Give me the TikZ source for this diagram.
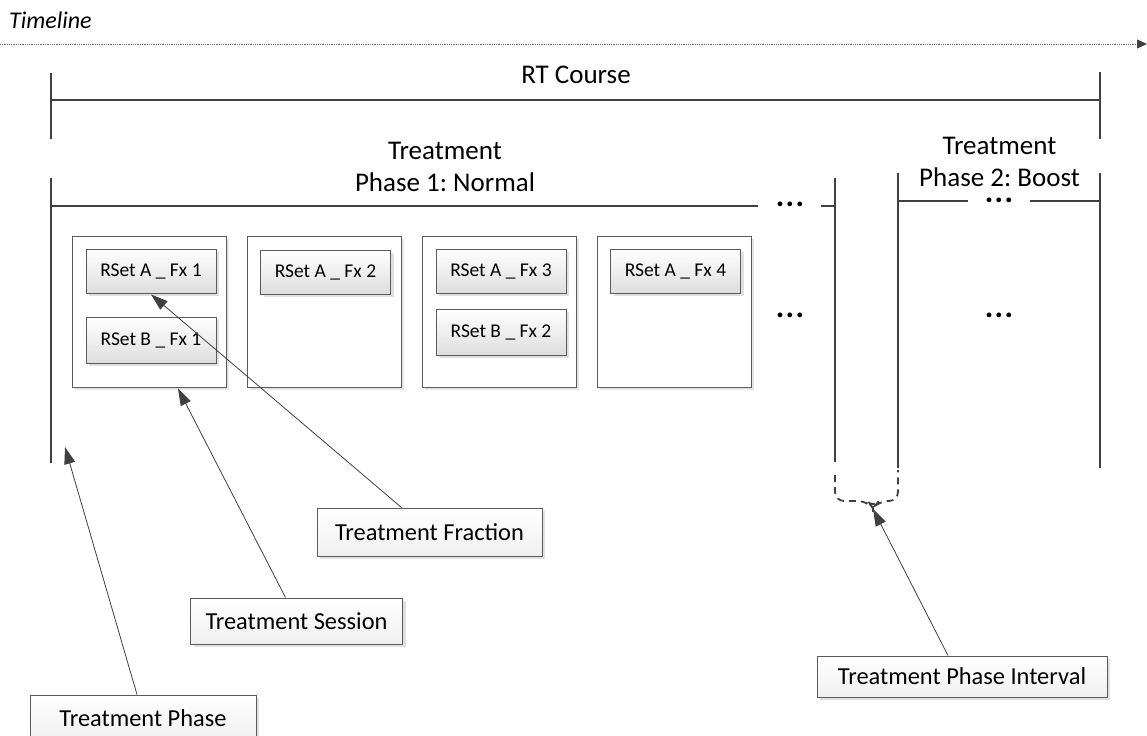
\documentclass[tikz,border=0pt]{standalone}
\usepackage{fontspec}
\setmainfont{Carlito}
\usetikzlibrary{arrows.meta,shadows}

\definecolor{barc}{HTML}{404040}
\definecolor{edgec}{HTML}{5A5A5A}

\tikzset{
  bar/.style={draw=barc, line width=2.6bp},
  sessionbox/.style={draw=edgec, line width=0.9bp, fill=white,
    minimum width=154bp, minimum height=151bp, inner sep=0pt,
    drop shadow={shadow xshift=3bp, shadow yshift=-3bp, fill=black!10, opacity=1}},
  fracbox/.style={draw=edgec, line width=0.9bp, top color=white, bottom color=black!13,
    minimum width=130bp, minimum height=44bp, inner sep=0pt,
    font=\fontsize{19.5bp}{22bp}\selectfont,
    drop shadow={shadow xshift=3bp, shadow yshift=-3bp, fill=black!12, opacity=1}},
  callout/.style={draw=edgec, line width=0.9bp, top color=white, bottom color=black!6,
    inner sep=0pt, font=\fontsize{24.4bp}{28bp}\selectfont,
    drop shadow={shadow xshift=3bp, shadow yshift=-3bp, fill=black!12, opacity=1}},
  pointer/.style={draw=barc, line width=0.8bp, -{Triangle[length=17bp,width=11bp]}},
  title/.style={font=\fontsize{27bp}{32bp}\selectfont, align=center, inner sep=0pt},
  dots/.style={font=\fontsize{32bp}{32bp}\selectfont\bfseries, inner sep=0pt, anchor=base},
}

\newcommand{\ellip}{.\kern1.4bp.\kern1.4bp.}

\begin{document}
\frenchspacing
\begin{tikzpicture}[x=1bp, y=-1bp]
\useasboundingbox (0,0) rectangle (1147,736);

% timeline
\node[anchor=west, inner sep=0pt, font=\fontsize{24bp}{26bp}\selectfont\itshape] (tl) at (9,20) {Timeline};
\coordinate (tlA) at (0,44);
\coordinate (tlB) at (1147,44);
\draw[draw=black!60, line width=0.8bp, densely dotted,
  -{Triangle[length=10bp,width=9bp,fill=barc,color=barc]}] (tlA) -- (tlB);

% RT course span
\draw[bar] (51,73) -- (51,139);
\draw[bar] (1100,72) -- (1100,139);
\draw[bar] (51,100) -- (1100,100);
\node[title] (rt) at (576,75) {RT Course};

% treatment phase 1
\node[title] (ph1) at (445,167) {Treatment\\Phase 1: Normal};
\draw[bar] (51,178) -- (51,463);
\draw[bar] (51,206) -- (758,206);
\node[dots] (d1) at (790,206) {\ellip};
\draw[bar] (821,206) -- (835,206);
\draw[bar] (835,178) -- (835,462);

% treatment phase 2
\draw[bar] (898,173) -- (898,468);
\draw[bar] (1100,173) -- (1100,468);
\draw[bar] (898,201) -- (968,201);
\draw[bar] (1030,201) -- (1100,201);
\node[title] (ph2) at (999.5,162) {Treatment\\Phase 2: Boost};
\node[dots] (d2) at (999,202) {\ellip};

% interval between phases
\draw[draw=barc, line width=1.8bp, dash pattern=on 7bp off 5bp, rounded corners=9bp]
  (835,475) -- (835,501) -- (867,501) -- (873,508) -- (879,501) -- (898,501) -- (898,470);
\coordinate (brace) at (873,509);
\draw[draw=barc, line width=1.8bp] (873,506) -- (873,512);

% treatment sessions
\node[sessionbox] (s1) at (149,311.5) {};
\node[sessionbox] (s2) at (324,311.5) {};
\node[sessionbox] (s3) at (499,311.5) {};
\node[sessionbox] (s4) at (674,311.5) {};

% fractions
\node[fracbox] (a1) at (151,271) {RSet A \_ Fx 1};
\node[fracbox, minimum height=46bp] (b1) at (151,340) {RSet B \_ Fx 1};
\node[fracbox] (a2) at (325.5,272) {RSet A \_ Fx 2};
\node[fracbox] (a3) at (501,271) {RSet A \_ Fx 3};
\node[fracbox, minimum height=46bp] (b2) at (501,332) {RSet B \_ Fx 2};
\node[fracbox] (a4) at (675.5,271) {RSet A \_ Fx 4};

\node[dots] (d3) at (790,317) {\ellip};
\node[dots] (d4) at (999,317) {\ellip};

% callouts
\node[callout, minimum width=225bp, minimum height=48bp] (cfrac) at (429.5,532) {Treatment Fraction};
\node[callout, minimum width=212bp, minimum height=46bp] (csess) at (296.5,621) {Treatment Session};
\node[callout, minimum width=226bp, minimum height=46bp] (cphase) at (143,718) {Treatment Phase};
\node[callout, minimum width=290bp, minimum height=41bp] (cint) at (962,676.5) {Treatment Phase Interval};

\coordinate (phasebar) at (65,447);
\draw[pointer] ([xshift=-28bp]cfrac.north) -- ([yshift=-1bp]a1.south);
\draw[pointer] ([xshift=-11bp]csess.north) -- ([xshift=29bp,yshift=-1bp]s1.south);
\draw[pointer] ([xshift=-6bp]cphase.north) -- (phasebar);
\draw[pointer] ([xshift=-14bp]cint.north) -- (brace);
\end{tikzpicture}
\end{document}
